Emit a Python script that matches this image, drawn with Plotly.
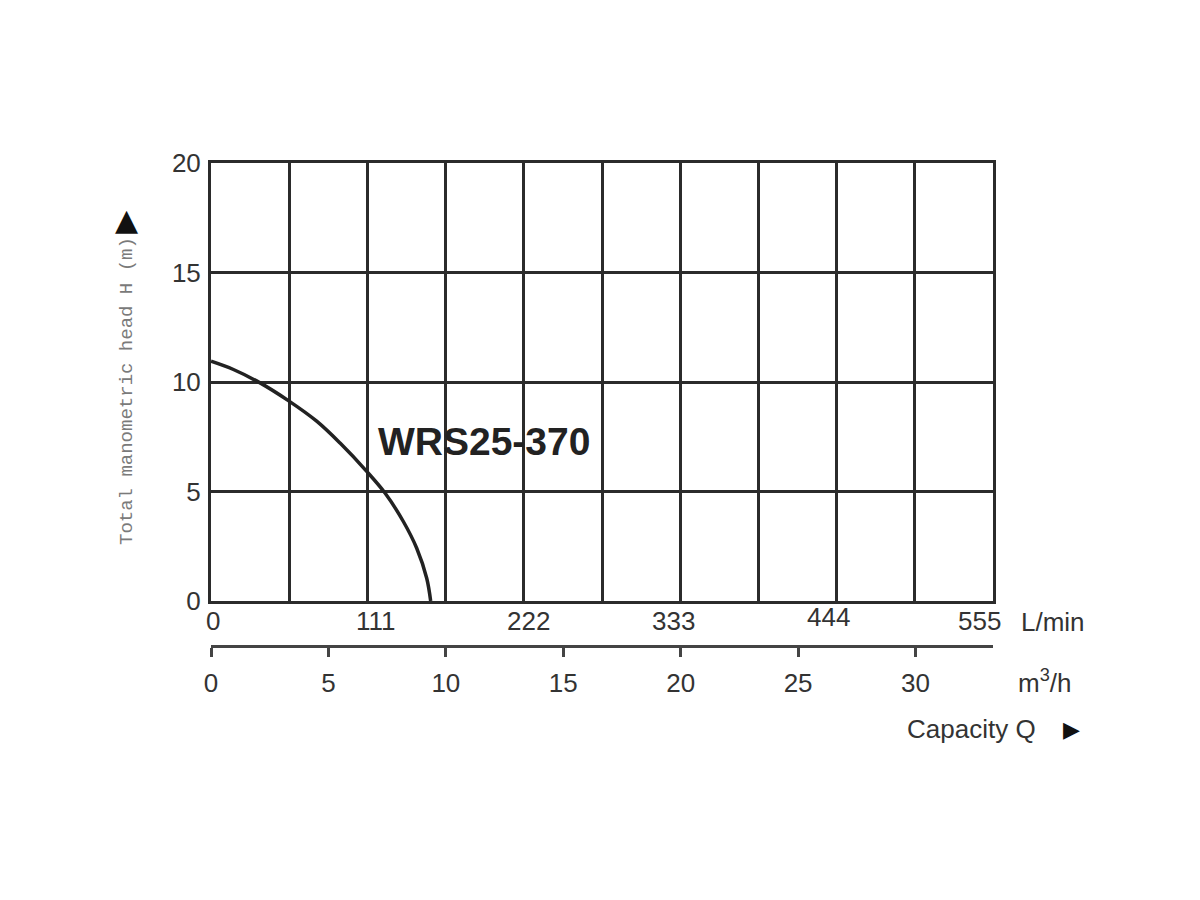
import plotly.graph_objects as go

# ---- data ----
FLOW_LPM = [0, 15.9, 34.8, 54.9, 75.0, 91.6, 110.5, 123.5, 136.5, 146.0, 153.1, 155.9]
HEAD_M = [10.95, 10.57, 9.96, 9.15, 8.21, 7.21, 5.92, 4.93, 3.63, 2.41, 1.04, 0]
MODEL = "WRS25-370"

LPM_TICKS = [0, 111, 222, 333, 444, 555]
LPM_LABELS = ["0", "111", "222", "333", "444", "555"]
LPM_GRID_STEP = 55.5
M3H_TICKS = [0, 5, 10, 15, 20, 25, 30]
HEAD_TICKS = [0, 5, 10, 15, 20]
LPM_MAX = 555
M3H_MAX = 555 * 60 / 1000

# small horizontal offsets of the L/min labels as printed in the reference
LPM_LABEL_SHIFT = [2, 9, 5, -7, -8, -14]
LPM_LABEL_DY = [0, 0, 0, 0, -4, 0]

INK = "#2b2b2b"
TXT = "#333333"
FONT = "Liberation Sans, Arial, Helvetica, sans-serif"

fig = go.Figure()
fig.add_trace(go.Scatter(
    x=FLOW_LPM, y=HEAD_M, mode="lines",
    line=dict(color="#222222", width=3.5, shape="spline", smoothing=1.0),
    hoverinfo="skip", showlegend=False,
))
# invisible helper so the secondary (m3/h) axis is created
fig.add_trace(go.Scatter(
    x=[0], y=[0], xaxis="x2", yaxis="y", mode="markers",
    marker=dict(opacity=0), hoverinfo="skip", showlegend=False,
))

# page body adds a small offset; compensate
OFF = 7
H = 900
mt, mb = 162 - OFF, 180 + OFF
plot_h = H - mt - mb
bottom_px = 600 - OFF
dom_bottom = (H - mb - bottom_px) / plot_h
pos_x2 = (H - mb - (645 - OFF)) / plot_h

fig.update_layout(
    width=1200, height=900,
    margin=dict(l=210 - OFF, r=208 + OFF, t=mt, b=mb),
    paper_bgcolor="white", plot_bgcolor="white",
    font=dict(family=FONT, color=TXT),
    xaxis=dict(
        range=[0, LPM_MAX], tickvals=LPM_TICKS, showticklabels=False,
        showgrid=True, gridcolor=INK, gridwidth=3,
        minor=dict(tick0=0, dtick=LPM_GRID_STEP, showgrid=True, gridcolor=INK, gridwidth=3, ticks=""),
        showline=True, linecolor=INK, linewidth=3, mirror=True,
        ticks="", zeroline=False,
    ),
    xaxis2=dict(
        range=[0, M3H_MAX], tickvals=M3H_TICKS,
        overlaying="x", anchor="free", position=pos_x2, side="bottom",
        showgrid=False, zeroline=False,
        showline=True, linecolor="#444444", linewidth=3,
        ticks="outside", ticklen=9, tickwidth=2.5, tickcolor="#444444",
        tickfont=dict(size=26, color=TXT), ticklabelstandoff=4,
    ),
    yaxis=dict(
        range=[0, 20], tickvals=HEAD_TICKS, domain=[dom_bottom, 1],
        showgrid=True, gridcolor=INK, gridwidth=3,
        showline=True, linecolor=INK, linewidth=3, mirror=True,
        ticks="", tickfont=dict(size=26, color=TXT), zeroline=False,
        ticklabelstandoff=2,
    ),
)

def dom_y(py):
    return (600 - py) / 438

def dom_x(px):
    return (px - 210) / 782

ann = []
for v, lab, sh, dy in zip(LPM_TICKS, LPM_LABELS, LPM_LABEL_SHIFT, LPM_LABEL_DY):
    ann.append(dict(text=lab, x=v, y=dom_y(620), xref="x", yref="y domain",
                    xanchor="center", yanchor="middle", xshift=sh, yshift=-dy,
                    font=dict(size=26, color=TXT), showarrow=False))

ann += [
    dict(text="<b>" + MODEL + "</b>", x=117, y=7.3, xref="x", yref="y", xanchor="left",
         yanchor="middle", font=dict(size=39, family=FONT, color="#222222"), showarrow=False),
    dict(text="Total manometric head H (m)", x=dom_x(126), y=dom_y(390),
         xref="x domain", yref="y domain", textangle=-90, xanchor="center", yanchor="middle",
         font=dict(size=19, family="Liberation Mono, Courier New, monospace", color="#7a7a7a"),
         showarrow=False),
    dict(text="▲", x=dom_x(125), y=dom_y(218), xref="x domain", yref="y domain",
         xanchor="center", yanchor="middle", font=dict(size=30, family="DejaVu Sans", color="#111111"),
         showarrow=False),
    dict(text="L/min", x=dom_x(1018), y=dom_y(621), xref="x domain", yref="y domain",
         xanchor="left", yanchor="middle", font=dict(size=26, color=TXT), showarrow=False),
    dict(text="m<sup>3</sup>/h", x=dom_x(1015), y=dom_y(680), xref="x domain", yref="y domain",
         xanchor="left", yanchor="middle", font=dict(size=26, color=TXT), showarrow=False),
    dict(text="Capacity Q", x=dom_x(1037), y=dom_y(728), xref="x domain", yref="y domain",
         xanchor="right", yanchor="middle", font=dict(size=26, color=TXT), showarrow=False),
    dict(text="▶", x=dom_x(1070), y=dom_y(728), xref="x domain", yref="y domain",
         xanchor="center", yanchor="middle", font=dict(size=22, family="DejaVu Sans", color="#111111"),
         showarrow=False),
]
fig.update_layout(annotations=ann)

fig.write_html("out.html")
